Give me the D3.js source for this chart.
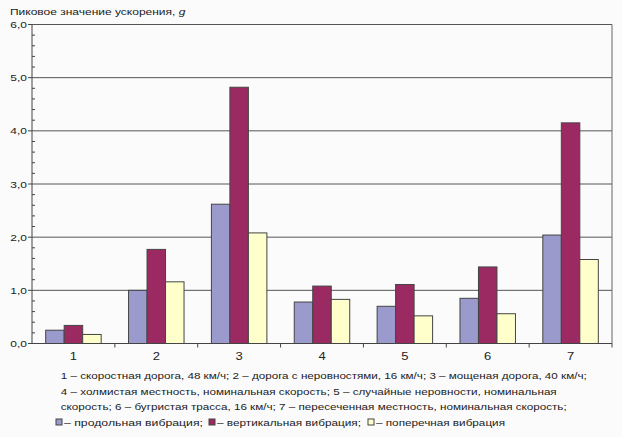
<!DOCTYPE html>
<html>
<head>
<meta charset="utf-8">
<script src="https://cdn.jsdelivr.net/npm/d3@7"></script>
<style>
body{margin:0;background:#fbfbfb}
svg{display:block;font-family:"Liberation Sans",Arial,sans-serif}
</style>
</head>
<body>
<svg width="622" height="437"></svg>
<script>
const categories=["1","2","3","4","5","6","7"]
const series=["продольная вибрация","вертикальная вибрация","поперечная вибрация"]
const longitudinal=[0.25,1.0,2.62,0.78,0.70,0.85,2.04]
const vertical=[0.34,1.77,4.82,1.08,1.11,1.44,4.15]
const transverse=[0.17,1.16,2.08,0.83,0.52,0.56,1.58]
const yTicks=[0,1,2,3,4,5,6]
const yTickLabels=["0,0","1,0","2,0","3,0","4,0","5,0","6,0"]
const colors=["#9a9acd","#9c2a62","#ffffcc"]
const titleText="Пиковое значение ускорения, "
const notes=[
"1 – скоростная дорога, 48 км/ч; 2 – дорога с неровностями, 16 км/ч; 3 – мощеная дорога, 40 км/ч;",
"4 – холмистая местность, номинальная скорость; 5 – случайные неровности, номинальная",
"скорость; 6 – бугристая трасса, 16 км/ч; 7 – пересеченная местность, номинальная скорость;"
]

const values=[longitudinal,vertical,transverse]
const svg=d3.select("svg")
const pLeft=32,pRight=612,pTop=24.5,pBottom=343.5

const x=d3.scaleBand().domain(categories).range([pLeft,pRight])
const xs=d3.scaleBand().domain(d3.range(series.length)).range([0,x.bandwidth()]).paddingOuter(0.74)
const y=d3.scaleLinear().domain([0,6]).range([pBottom,pTop])

// squashed text, like the scanned original
txt=(g,px,py,s,size,anchor,sy)=>{
return g.append("text").attr("transform",`translate(${px},${py}) scale(1,${sy||0.8})`)
.attr("font-size",size).attr("text-anchor",anchor||"start").attr("fill","#222").text(s)
}

// grid
svg.append("g").selectAll("line").data(yTicks.slice(1)).join("line")
.attr("x1",pLeft).attr("x2",pRight).attr("y1",d=>y(d)).attr("y2",d=>y(d))
.attr("stroke","#555").attr("stroke-width",1)
svg.append("line").attr("x1",pRight).attr("x2",pRight).attr("y1",pTop).attr("y2",pBottom).attr("stroke","#666")

// bars
categories.forEach((c,i)=>{
values.forEach((v,k)=>{
svg.append("rect").attr("x",x(c)+xs(k)).attr("width",xs.bandwidth())
.attr("y",y(v[i])).attr("height",pBottom-y(v[i]))
.attr("fill",colors[k]).attr("stroke","#444").attr("stroke-width",1)
})
})

// y axis
const ya=svg.append("g")
ya.append("line").attr("x1",pLeft).attr("x2",pLeft).attr("y1",pTop).attr("y2",pBottom).attr("stroke","#444")
const minor=d3.range(0,6.001,0.2).filter(d=>Math.abs(d-Math.round(d))>0.01)
ya.selectAll(".mn").data(minor).join("line").attr("class","mn")
.attr("x1",pLeft).attr("x2",pLeft+3).attr("y1",d=>y(d)).attr("y2",d=>y(d)).attr("stroke","#444")
ya.selectAll(".mj").data(yTicks).join("line").attr("class","mj")
.attr("x1",pLeft-4).attr("x2",pLeft).attr("y1",d=>y(d)).attr("y2",d=>y(d)).attr("stroke","#444")
yTicks.forEach((d,i)=>txt(ya,27,y(d)+3.6,yTickLabels[i],12,"end"))

// x axis
const xa=svg.append("g")
xa.append("line").attr("x1",pLeft).attr("x2",pRight).attr("y1",pBottom).attr("y2",pBottom).attr("stroke","#444")
xa.selectAll("line.t").data(categories).join("line").attr("class","t")
.attr("x1",d=>x(d)+x.bandwidth()).attr("x2",d=>x(d)+x.bandwidth()).attr("y1",pBottom).attr("y2",pBottom+4).attr("stroke","#444")
categories.forEach(c=>txt(xa,x(c)+x.bandwidth()/2,359.5,c,13,"middle",0.85))

// title
const t=txt(svg,10,14.5,titleText,12,"start",0.78)
t.append("tspan").attr("font-style","italic").text("g")

// notes
const nl=[526,496,506]
notes.forEach((s,i)=>{
txt(svg,60.7,379+i*15.5,s,11,"start",0.8).attr("textLength",nl[i]).attr("lengthAdjust","spacingAndGlyphs")
})
const legX=[56,209,368],legW=[139,144,129]
series.forEach((s,k)=>{
svg.append("rect").attr("x",legX[k]).attr("y",419).attr("width",6).attr("height",6)
.attr("fill",colors[k]).attr("stroke","#444")
txt(svg,legX[k]+8,425.5,"– "+s+(k<2?";":""),11,"start",0.8).attr("textLength",legW[k]).attr("lengthAdjust","spacingAndGlyphs")
})
</script>
</body>
</html>
